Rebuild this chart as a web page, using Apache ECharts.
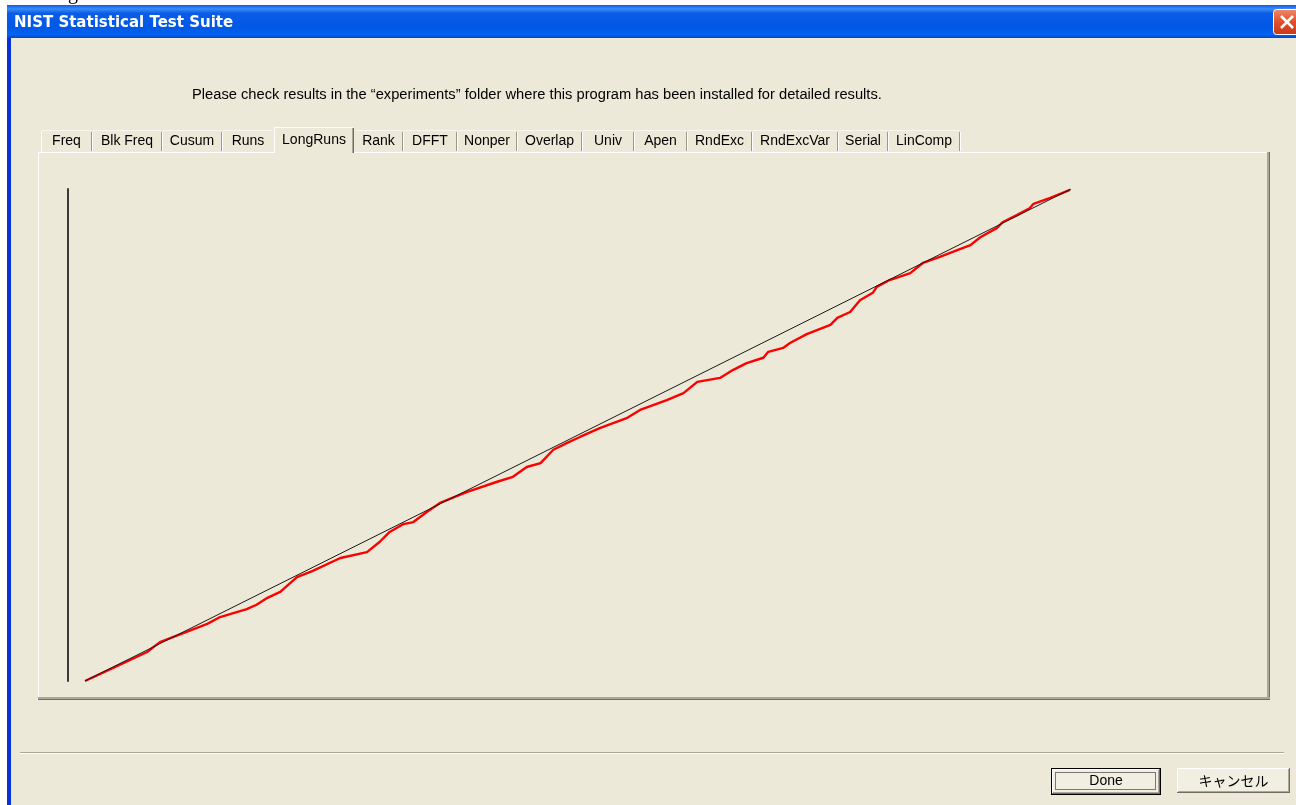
<!DOCTYPE html>
<html><head><meta charset="utf-8">
<script src="https://cdn.jsdelivr.net/npm/echarts@6/dist/echarts.min.js"></script>
<style>html,body{margin:0;padding:0;background:#fff;overflow:hidden}#c{width:1296px;height:805px}</style>
</head><body><div id="c"></div>
<script>
// ---- content / data ----
const titleText = 'NIST Statistical Test Suite';
const noteText = 'Please check results in the “experiments” folder where this program has been installed for detailed results.';
const tabLabels = ['Freq','Blk Freq','Cusum','Runs','LongRuns','Rank','DFFT','Nonper','Overlap','Univ','Apen','RndExc','RndExcVar','Serial','LinComp'];
const activeTab = 'LongRuns';
const buttonLabels = ['Done','キャンセル'];
// expected (uniform) vs observed cumulative proportion
const referenceX = [0, 1];
const referenceY = [0, 1];
const observedX = [0,0.028,0.063,0.076,0.103,0.124,0.137,0.164,0.174,0.185,0.198,0.215,0.231,0.259,0.286,0.299,0.309,0.323,0.333,0.347,0.360,0.387,0.418,0.434,0.448,0.462,0.475,0.489,0.502,0.522,0.550,0.563,0.590,0.607,0.621,0.644,0.657,0.671,0.688,0.693,0.708,0.715,0.732,0.756,0.763,0.776,0.786,0.799,0.803,0.816,0.837,0.850,0.867,0.880,0.898,0.908,0.925,0.931,0.945,0.958,0.962,0.979,0.999];
const observedY = [0,0.026,0.059,0.079,0.100,0.116,0.130,0.146,0.155,0.169,0.181,0.211,0.224,0.250,0.262,0.283,0.303,0.319,0.323,0.344,0.362,0.384,0.405,0.415,0.435,0.443,0.470,0.484,0.496,0.514,0.535,0.551,0.571,0.585,0.608,0.616,0.632,0.646,0.657,0.669,0.677,0.687,0.705,0.724,0.738,0.750,0.774,0.789,0.801,0.815,0.829,0.850,0.862,0.872,0.886,0.902,0.921,0.933,0.947,0.961,0.970,0.982,0.998];

// ---- layout constants ----
const BG = '#ECE9D8';
const tabEdges = [41, 92, 162, 222, 274, 354, 403, 457, 517, 582, 634, 687, 752, 838, 888, 960];
const W = 1296, H = 805;
const UI_FONT = '"Liberation Sans"';

function rect(x, y, w, h, fill, extra) {
  return Object.assign({type: 'rect', shape: {x, y, width: w, height: h}, style: {fill}, silent: true}, extra || {});
}
function text(x, y, t, font, fill, align, extra) {
  return Object.assign({type: 'text', style: {x, y, text: t, font, fill: fill || '#000', textAlign: align || 'left', textVerticalAlign: 'middle'}, silent: true}, extra || {});
}

const g = [];
// page background (white) + descender of text above
g.push(rect(0, 0, W, H, '#ffffff'));
g.push(text(68, -6, 'g', '20px "Liberation Serif"', '#000'));
// window frame
g.push(rect(7, 5, W - 7, H - 5, '#0831D9'));
g.push(rect(11, 38, W - 11, H - 38, BG));
// title bar
g.push(rect(7, 5, W - 7, 33, {
  type: 'linear', x: 0, y: 0, x2: 0, y2: 1,
  colorStops: [
    {offset: 0, color: '#0A5EEA'}, {offset: 0.12, color: '#3C8CF7'}, {offset: 0.25, color: '#0A5CE6'},
    {offset: 0.7, color: '#0058E6'}, {offset: 0.9, color: '#0462F0'}, {offset: 1, color: '#0045C8'}
  ]
}));
g.push(text(14, 23, titleText, 'bold 15px "DejaVu Sans"', '#ffffff', 'left', {
  style: {x: 14, y: 23, text: titleText, font: 'bold 15px "DejaVu Sans"', fill: '#ffffff', textAlign: 'left', textVerticalAlign: 'middle',
          textShadowColor: '#0A1E7A', textShadowOffsetX: 1, textShadowOffsetY: 1, textShadowBlur: 0}
}));
// close button
g.push({type: 'rect', shape: {x: 1273.5, y: 9.5, width: 30, height: 25, r: 3}, style: {
  fill: {type: 'linear', x: 0, y: 0, x2: 0, y2: 1, colorStops: [{offset: 0, color: '#EE8A6A'}, {offset: 0.5, color: '#E0502A'}, {offset: 1, color: '#C8381A'}]},
  stroke: '#ffffff', lineWidth: 1}, silent: true});
g.push({type: 'line', shape: {x1: 1281, y1: 16, x2: 1293, y2: 28}, style: {stroke: '#fff', lineWidth: 2.5}, silent: true});
g.push({type: 'line', shape: {x1: 1293, y1: 16, x2: 1281, y2: 28}, style: {stroke: '#fff', lineWidth: 2.5}, silent: true});

// note text
g.push(text(192, 95, noteText, '14.7px ' + UI_FONT, '#000'));

// tab panel
g.push(rect(38, 152, 1232, 548, BG));
g.push(rect(38, 152, 1232, 1, '#ffffff'));
g.push(rect(38, 152, 1, 548, '#ffffff'));
g.push(rect(1267, 152, 2, 548, '#ACA899'));
g.push(rect(1269, 152, 1, 548, '#716F64'));
g.push(rect(38, 697, 1232, 2, '#ACA899'));
g.push(rect(38, 699, 1232, 1, '#716F64'));

// tabs
tabLabels.forEach((lab, i) => {
  const l = tabEdges[i], r = tabEdges[i + 1];
  const active = lab === activeTab;
  if (active) {
    g.push(rect(l, 127, r - l, 27, BG));
    g.push(rect(l, 127, 1, 26, '#ffffff'));
    g.push(rect(l + 1, 127, r - l - 2, 1, '#ffffff'));
    g.push(rect(r - 1, 128, 1, 25, '#716F64'));
    g.push(rect(r - 2, 128, 1, 25, '#ACA899'));
    g.push(text((l + r) / 2, 140, lab, '14px ' + UI_FONT, '#000', 'center'));
  } else {
    g.push(rect(l + 1, 130, r - l - 2, 1, '#F7F6F0'));
    if (i === 0) g.push(rect(l, 131, 1, 21, '#ffffff'));
    const nextActive = tabLabels[i + 1] === activeTab;
    if (!nextActive) {
      g.push(rect(r - 1, 132, 1, 19, '#9A988B'));
      g.push(rect(r, 132, 1, 19, '#ffffff'));
    }
    g.push(text((l + r) / 2, 141, lab, '14px ' + UI_FONT, '#000', 'center'));
  }
});

// bottom separator
g.push(rect(20, 752, 1264, 1, '#ACA899'));
g.push(rect(20, 753, 1264, 1, '#ffffff'));

// buttons
function button(x, y, w, h, label, isDefault, font) {
  if (isDefault) {
    g.push(rect(x, y, w, h, '#000000'));
    x += 1; y += 1; w -= 2; h -= 2;
  }
  g.push(rect(x, y, w, h, '#716F64'));
  g.push(rect(x, y, w - 1, h - 1, '#ffffff'));
  g.push(rect(x + 1, y + 1, w - 2, h - 2, '#ACA899'));
  g.push(rect(x + 1, y + 1, w - 3, h - 3, '#F1EFE2'));
  if (isDefault) {
    g.push({type: 'rect', shape: {x: x + 3.5, y: y + 3.5, width: w - 8, height: h - 8}, style: {fill: 'none', stroke: '#000', lineWidth: 1, lineDash: [1, 1]}, silent: true});
  }
  g.push(text(x + w / 2, y + h / 2, label, font, '#000', 'center'));
}
button(1051, 768, 110, 27, buttonLabels[0], true, '14px ' + UI_FONT);
button(1177, 768, 113, 25, buttonLabels[1], false, '14px "Noto Sans CJK JP"');

const chart = echarts.init(document.getElementById('c'), null, {renderer: 'canvas'});
chart.setOption({
  animation: false,
  backgroundColor: '#ffffff',
  graphic: {elements: g},
  grid: {left: 85, right: W - 1071, top: 189, bottom: H - 681},
  xAxis: {type: 'value', min: 0, max: 1, show: false},
  yAxis: {
    type: 'value', min: 0, max: 1, offset: 17,
    axisLine: {show: true, onZero: false, lineStyle: {color: '#3A3A3A', width: 2}},
    axisTick: {show: false}, axisLabel: {show: false}, splitLine: {show: false}
  },
  series: [
    {type: 'line', name: 'observed', data: observedX.map((x, i) => [x, observedY[i]]), symbol: 'none',
     lineStyle: {color: '#FF0000', width: 2.4}, z: 3},
    {type: 'line', name: 'expected', data: referenceX.map((x, i) => [x, referenceY[i]]), symbol: 'none',
     lineStyle: {color: '#1a1a1a', width: 1}, z: 4}
  ]
});
</script>
</body></html>
